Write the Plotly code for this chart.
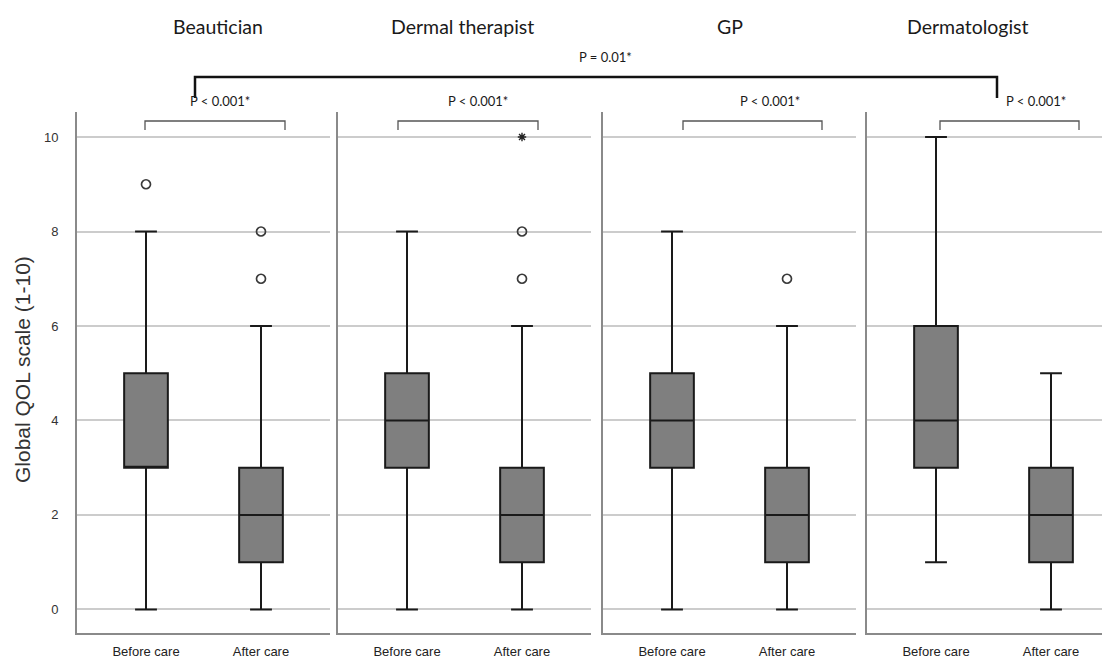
import plotly.graph_objects as go

# ---------------- data ----------------
groups = ["Beautician", "Dermal therapist", "GP", "Dermatologist"]
conditions = ["Before care", "After care"]
q1_vals = [[3, 1], [3, 1], [3, 1], [3, 1]]
median_vals = [[3, 2], [4, 2], [4, 2], [4, 2]]
q3_vals = [[5, 3], [5, 3], [5, 3], [6, 3]]
lower_vals = [[0, 0], [0, 0], [0, 0], [1, 0]]
upper_vals = [[8, 6], [8, 6], [8, 6], [10, 5]]
outlier_vals = [[[9], [7, 8]], [[], [7, 8]], [[], [7]], [[], []]]
extreme_vals = [[[], []], [[], [10]], [[], []], [[], []]]
within_p = ["P < 0.001*", "P < 0.001*", "P < 0.001*", "P < 0.001*"]
between_p = "P = 0.01*"
y_ticks = [0, 2, 4, 6, 8, 10]

# ---------------- layout helpers (screen pixel based) ----------------
OFF = 8                      # page body margin
W, H = 1110 - OFF, 660 - OFF
SL, ST, SB = 77, 112, 633    # screen: plot left, top, bottom
L, T = SL - OFF, ST - OFF
B = H - (SB - OFF)
R = 0
PW, PH = W - L - R, H - T - B
panels_px = [(77, 330), (338, 591), (603, 856), (867, 1110)]
unit_px = 115.0
left_off = 69.0


def px(x):
    return (x - OFF - L) / PW


def py(y):
    return (H - B - (y - OFF)) / PH


fig = go.Figure()

FONT_AX = "Liberation Sans, Arial, sans-serif"
FONT_TTL = "Lato, Open Sans, sans-serif"

for gi, g in enumerate(groups):
    xa = "x" if gi == 0 else f"x{gi + 1}"
    ya = "y" if gi == 0 else f"y{gi + 1}"
    for ci, c in enumerate(conditions):
        fig.add_trace(go.Box(
            x=[ci], q1=[q1_vals[gi][ci]], median=[median_vals[gi][ci]],
            q3=[q3_vals[gi][ci]], lowerfence=[lower_vals[gi][ci]],
            upperfence=[upper_vals[gi][ci]],
            width=0.38, whiskerwidth=0.5,
            fillcolor="#7f7f7f", line=dict(color="#1a1a1a", width=2),
            boxpoints=False, xaxis=xa, yaxis=ya, showlegend=False,
            hoverinfo="skip",
        ))
        if outlier_vals[gi][ci]:
            fig.add_trace(go.Scatter(
                x=[ci] * len(outlier_vals[gi][ci]), y=outlier_vals[gi][ci],
                mode="markers", xaxis=xa, yaxis=ya, showlegend=False,
                marker=dict(symbol="circle-open", size=9, color="#3a3a3a",
                            line=dict(width=1.7, color="#3a3a3a")),
            ))
        if extreme_vals[gi][ci]:
            fig.add_trace(go.Scatter(
                x=[ci] * len(extreme_vals[gi][ci]), y=extreme_vals[gi][ci],
                mode="markers", xaxis=xa, yaxis=ya, showlegend=False,
                marker=dict(symbol="asterisk-open", size=7, color="#222",
                            line=dict(width=1.4, color="#222")),
            ))

layout = dict(
    width=W, height=H,
    margin=dict(l=L, r=R, t=T, b=B, pad=0),
    paper_bgcolor="white", plot_bgcolor="white",
    showlegend=False,
)
for gi in range(4):
    x0, x1 = panels_px[gi]
    wpx = x1 - x0
    xr = [-left_off / unit_px, (wpx - left_off) / unit_px]
    xk = "xaxis" if gi == 0 else f"xaxis{gi + 1}"
    yk = "yaxis" if gi == 0 else f"yaxis{gi + 1}"
    layout[xk] = dict(
        domain=[px(x0), px(x1)], range=xr, anchor="y" if gi == 0 else f"y{gi + 1}",
        tickvals=[0, 1], ticktext=conditions, showgrid=False, zeroline=False,
        showline=True, linecolor="#8a8a8a", linewidth=2,
        ticks="", ticklabelstandoff=5, automargin=False,
        tickfont=dict(family=FONT_AX, size=13, color="#222"),
    )
    layout[yk] = dict(
        domain=[0, 1], range=[-0.5, 10.53], anchor="x" if gi == 0 else f"x{gi + 1}",
        tickvals=y_ticks, showticklabels=(gi == 0), showgrid=True,
        gridcolor="#cccccc", gridwidth=1.5, zeroline=False,
        showline=True, linecolor="#8a8a8a", linewidth=2, ticks="",
        ticklabelstandoff=14, automargin=False,
        tickfont=dict(family=FONT_AX, size=13, color="#333"),
    )
    if gi > 0:
        layout[yk]["matches"] = "y"
fig.update_layout(**layout)

annotations = []
shapes = []
title_x = [218, 462, 730, 968]
for gi, g in enumerate(groups):
    annotations.append(dict(
        x=px(title_x[gi]), y=py(27), xref="paper", yref="paper", text=g,
        showarrow=False, font=dict(family=FONT_TTL, size=19.5, color="#1a1a1a"),
        xanchor="center", yanchor="middle"))

# within-group brackets
br_px = [(145, 285), (398, 538), (683, 822), (940, 1079)]
br_lbl = [220, 478, 770, 1036]
for gi in range(4):
    a, b = br_px[gi]
    shapes.append(dict(
        type="path", xref="paper", yref="paper",
        path=f"M {px(a)},{py(130)} L {px(a)},{py(121)} L {px(b)},{py(121)} L {px(b)},{py(130)}",
        line=dict(color="#555", width=1.3)))
    annotations.append(dict(
        x=px(br_lbl[gi]), y=py(101), xref="paper", yref="paper", text=within_p[gi],
        showarrow=False, font=dict(family=FONT_TTL, size=13, color="#1a1a1a"),
        xanchor="center", yanchor="middle"))

# between-group bracket
shapes.append(dict(
    type="path", xref="paper", yref="paper",
    path=f"M {px(195)},{py(98)} L {px(195)},{py(77)} L {px(997)},{py(77)} L {px(997)},{py(98)}",
    line=dict(color="#111", width=2.5)))
annotations.append(dict(
    x=px(605), y=py(57), xref="paper", yref="paper", text=between_p,
    showarrow=False, font=dict(family=FONT_TTL, size=13, color="#1a1a1a"),
    xanchor="center", yanchor="middle"))

# y-axis title
annotations.append(dict(
    x=px(22), y=py(370), xref="paper", yref="paper", text="Global QOL scale (1-10)",
    textangle=-90, showarrow=False,
    font=dict(family=FONT_AX, size=21, color="#333"),
    xanchor="center", yanchor="middle"))

fig.update_layout(annotations=annotations, shapes=shapes)
fig.write_html("out.html")
